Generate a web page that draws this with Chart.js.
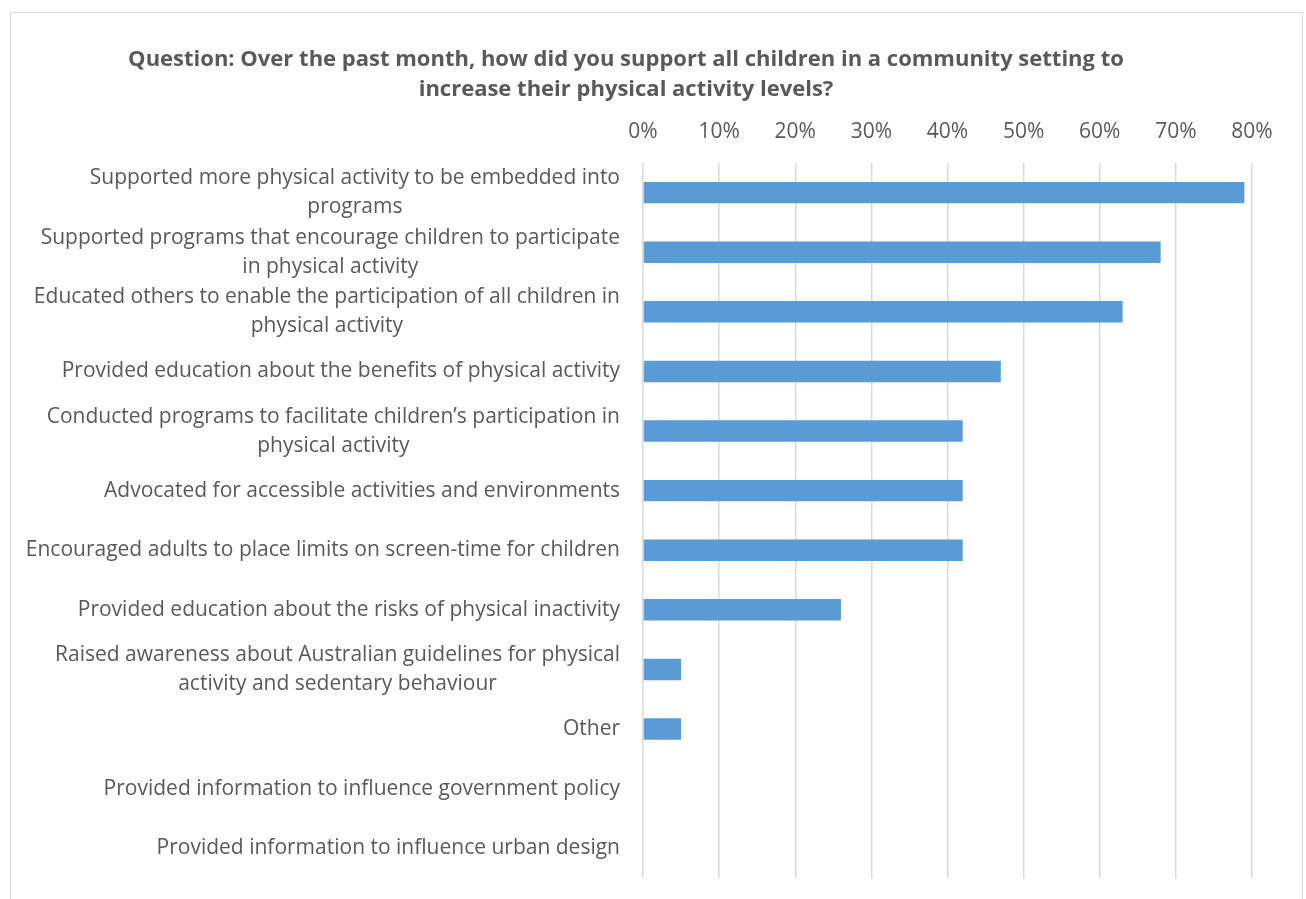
<!DOCTYPE html>
<html>
<head>
<meta charset="utf-8">
<title>Community setting support</title>
<script src="https://cdn.jsdelivr.net/npm/chart.js@4"></script>
<style>
  body { margin: 0; background: #fff; }
  #wrap { position: relative; width: 1306px; height: 899px; overflow: hidden; }
  #myChart { display: block; }
  #frame {
    position: absolute; left: 10px; top: 12px; width: 1291px; height: 900px;
    border: 1px solid #d9d9d9; pointer-events: none;
  }
</style>
</head>
<body>
<div id="wrap">
  <canvas id="myChart" width="1306" height="899"></canvas>
  <div id="frame"></div>
</div>
<script>
// Categories (wrapped the same way as the source chart)
const categories = [
  ["Supported more physical activity to be embedded into", "programs"],
  ["Supported programs that encourage children to participate", "in physical activity"],
  ["Educated others to enable the participation of all children in", "physical activity"],
  "Provided education about the benefits of physical activity",
  ["Conducted programs to facilitate children\u2019s participation in", "physical activity"],
  "Advocated for accessible activities and environments",
  "Encouraged adults to place limits on screen-time for children",
  "Provided education about the risks of physical inactivity",
  ["Raised awareness about Australian guidelines for physical", "activity and sedentary behaviour"],
  "Other",
  "Provided information to influence government policy",
  "Provided information to influence urban design",
];

// Share of respondents, in percent
const responses = [79, 68, 63, 47, 42, 42, 42, 26, 5, 5, 0, 0];

const xTicks = [0, 10, 20, 30, 40, 50, 60, 70, 80];

const chartTitle = [
  "Question: Over the past month, how did you support all children in a community setting to",
  "increase their physical activity levels?",
];

const textColor = "#595959";
const fontFamily = "'Open Sans', sans-serif";

// Excel-style category labels: block right-aligned, lines centred inside it
const categoryLabels = {
  id: "categoryLabels",
  afterDraw(chart) {
    const yScale = chart.scales.y;
    const ctx = chart.ctx;
    const lineGap = 29;
    const rightEdge = chart.chartArea.left - 23;
    ctx.save();
    ctx.font = "21px " + fontFamily;
    ctx.fillStyle = textColor;
    ctx.textAlign = "center";
    ctx.textBaseline = "middle";
    chart.data.labels.forEach((label, i) => {
      const lines = Array.isArray(label) ? label : [label];
      const blockWidth = Math.max(...lines.map((l) => ctx.measureText(l).width));
      const cx = rightEdge - blockWidth / 2;
      const cy = yScale.getPixelForTick(i);
      const startY = cy - ((lines.length - 1) * lineGap) / 2;
      lines.forEach((line, j) => {
        ctx.fillText(line, cx, startY + j * lineGap);
      });
    });
    ctx.restore();
  },
};

const ctx = document.getElementById("myChart");

new Chart(ctx, {
  type: "bar",
  data: {
    labels: categories,
    datasets: [
      {
        data: responses,
        backgroundColor: "#5b9bd5",
        borderWidth: 0,
        barPercentage: 0.36,
        categoryPercentage: 1,
      },
    ],
  },
  options: {
    indexAxis: "y",
    responsive: false,
    animation: false,
    devicePixelRatio: 1,
    layout: {
      padding: { left: 0, right: 54, top: 0, bottom: 21 },
    },
    plugins: {
      legend: { display: false },
      tooltip: { enabled: false },
      title: {
        display: true,
        text: chartTitle,
        color: textColor,
        font: { family: fontFamily, size: 22, weight: "bold", lineHeight: 1.36 },
        padding: { top: 45, bottom: 8 },
      },
    },
    scales: {
      x: {
        position: "top",
        min: 0,
        max: 80,
        afterBuildTicks(scale) {
          scale.ticks = xTicks.map((v) => ({ value: v }));
        },
        afterFit(scale) {
          scale.height = 50;
        },
        ticks: {
          color: textColor,
          font: { family: fontFamily, size: 21 },
          padding: 18,
          callback: (v) => v + "%",
        },
        grid: {
          color: "#d9d9d9",
          lineWidth: 1.5,
          drawTicks: false,
        },
        border: { display: false },
      },
      y: {
        ticks: { display: false },
        grid: { display: false },
        border: { display: false },
        afterFit(scale) {
          scale.width = 643;
        },
      },
    },
  },
  plugins: [categoryLabels],
});
</script>
</body>
</html>
